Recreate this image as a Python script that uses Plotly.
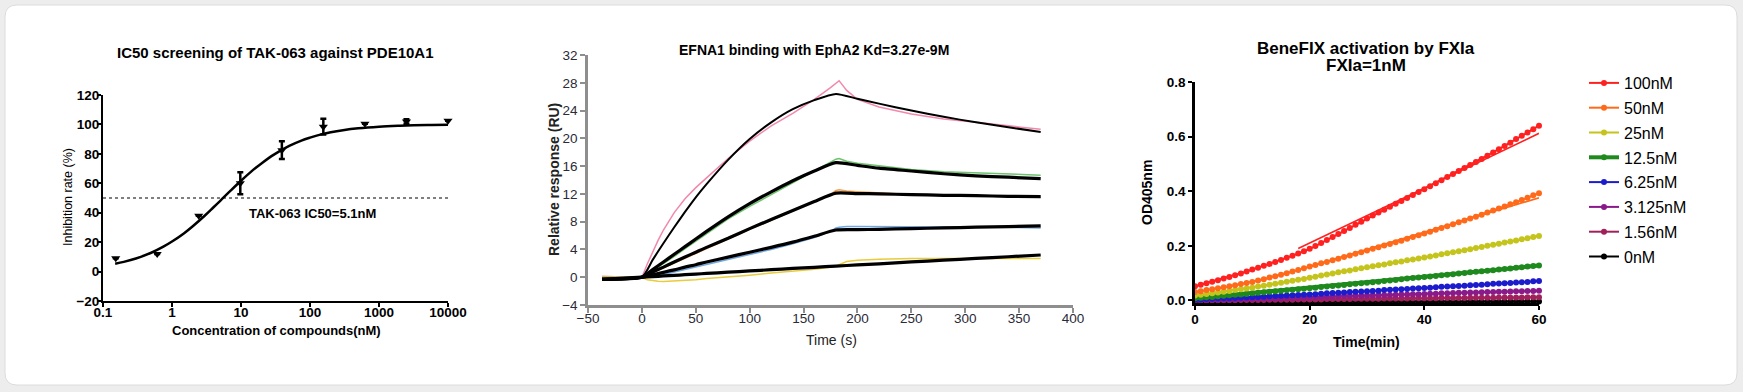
import plotly.graph_objects as go

# ---------------- Panel 1 : IC50 ----------------
conc_nM = [0.153, 0.61, 2.44, 9.77, 39.1, 156, 625, 2500, 10000]
inhib_mean = [9, 12, 38, 60, 82.5, 98.5, 100.5, 102, 102.5]
inhib_err = [0, 0, 0, 7.5, 6, 5.3, 0, 1.5, 0]
fit_conc = [0.15, 0.2, 0.3, 0.5, 0.75, 1, 1.5, 2, 3, 4, 5, 7, 10, 15, 20, 30, 50,
            75, 100, 150, 200, 300, 500, 1000, 2000, 5000, 10000]
fit_inhib = [5.3, 6.6, 8.9, 12.8, 16.9, 20.4, 26.1, 30.8, 38.1, 43.7, 48.1, 54.8,
             61.7, 69.1, 73.7, 79.5, 85.4, 89.0, 91.0, 93.4, 94.7, 96.1, 97.4,
             98.5, 99.1, 99.6, 99.75]
half_level = 50
conc_ticks = [0.1, 1, 10, 100, 1000, 10000]
conc_ticktext = ["0.1", "1", "10", "100", "1000", "10000"]

# ---------------- Panel 2 : SPR ----------------
spr_t_raw = [-37, -20, 0, 5, 10, 15, 20, 30, 40, 50, 60, 80, 100, 120, 140, 160, 175,
             180, 183, 186, 190, 200, 220, 250, 280, 310, 340, 370]
spr_pink = [0.1, 0.05, 0, 1.9, 3.7, 5.3, 6.8, 9.3, 11.3, 12.9, 14.3, 17.1, 19.6, 21.8,
            23.6, 25.6, 27.3, 28.0, 28.3, 27.7, 26.9, 25.6, 24.5, 23.5, 22.8,
            22.3, 21.8, 21.3]
spr_green = [0.0, 0.0, 0, 0.4, 0.9, 1.4, 1.9, 3.0, 4.1, 5.2, 6.3, 8.4, 10.2, 11.9, 13.6,
             15.4, 16.6, 17.0, 17.1, 16.9, 16.7, 16.4, 16.0, 15.5, 15.2, 15.0,
             14.8, 14.7]
spr_orange = [0.1, 0.05, 0, 0.3, 0.65, 1.0, 1.35, 2.1, 2.8, 3.5, 4.2, 5.5, 6.9, 8.2, 9.5,
              10.9, 11.9, 12.5, 12.6, 12.5, 12.4, 12.3, 12.1, 11.9, 11.8, 11.7,
              11.6, 11.5]
spr_blue = [0.0, 0.0, 0, 0.05, 0.15, 0.27, 0.4, 0.75, 1.1, 1.45, 1.8, 2.5, 3.3, 4.0, 4.8,
            5.7, 6.6, 7.1, 7.2, 7.25, 7.3, 7.3, 7.3, 7.3, 7.3, 7.25, 7.2, 7.1]
spr_yellow = [0.0, 0.0, 0, -0.35, -0.5, -0.57, -0.6, -0.55, -0.45, -0.35, -0.2, 0.0, 0.3,
              0.6, 0.85, 1.15, 1.45, 1.6, 1.8, 2.0, 2.25, 2.45, 2.6, 2.7, 2.7, 2.7,
              2.7, 2.7]
spr_t_fit = [-37, 0, 10, 20, 30, 40, 50, 60, 80, 100, 120, 140, 160, 180, 200, 220,
             250, 280, 310, 340, 370]
spr_fit1 = [-0.3, 0, 2.5, 4.9, 7.2, 9.4, 11.5, 13.4, 16.9, 19.9, 22.3, 24.2, 25.5,
            26.4, 25.7, 25.0, 24.0, 23.1, 22.3, 21.6, 20.9]
spr_fit2 = [-0.3, 0, 1.1, 2.2, 3.3, 4.4, 5.5, 6.6, 8.7, 10.6, 12.3, 13.9, 15.3,
            16.5, 16.1, 15.7, 15.3, 14.9, 14.6, 14.4, 14.2]
spr_fit3 = [-0.3, 0, 0.75, 1.45, 2.2, 2.9, 3.6, 4.3, 5.6, 7.0, 8.3, 9.6, 10.9, 12.1,
            12.05, 12.0, 11.9, 11.8, 11.75, 11.65, 11.6]
spr_fit4 = [-0.3, 0, 0.35, 0.7, 1.05, 1.45, 1.8, 2.2, 2.9, 3.6, 4.3, 5.05, 5.9, 6.8,
            6.85, 6.9, 7.0, 7.1, 7.2, 7.3, 7.4]
spr_fit5 = [-0.3, 0, 0.09, 0.18, 0.27, 0.36, 0.45, 0.54, 0.72, 0.9, 1.08, 1.26,
            1.43, 1.6, 1.77, 1.93, 2.2, 2.45, 2.7, 2.95, 3.2]

# ---------------- Panel 3 : BeneFIX kinetics ----------------
time_min = list(range(0, 61))
od_100 = [0.052, 0.058, 0.063, 0.069, 0.074, 0.080, 0.086, 0.092, 0.099, 0.106,
          0.113, 0.120, 0.127, 0.134, 0.141, 0.148, 0.156, 0.164, 0.172, 0.180,
          0.189, 0.199, 0.210, 0.221, 0.232, 0.243, 0.254, 0.265, 0.277, 0.288,
          0.300, 0.311, 0.322, 0.332, 0.343, 0.354, 0.364, 0.375, 0.386, 0.397,
          0.407, 0.418, 0.429, 0.440, 0.452, 0.463, 0.474, 0.485, 0.496, 0.507,
          0.518, 0.530, 0.542, 0.554, 0.566, 0.578, 0.591, 0.603, 0.615, 0.627, 0.640]
od_50 = [0.031, 0.034, 0.038, 0.041, 0.045, 0.048, 0.052, 0.056, 0.060, 0.064,
         0.068, 0.073, 0.078, 0.084, 0.089, 0.094, 0.100, 0.106, 0.112, 0.118,
         0.124, 0.130, 0.136, 0.141, 0.147, 0.153, 0.159, 0.165, 0.171, 0.177,
         0.183, 0.189, 0.195, 0.201, 0.207, 0.213, 0.219, 0.226, 0.232, 0.239,
         0.245, 0.252, 0.259, 0.265, 0.272, 0.279, 0.286, 0.293, 0.300, 0.307,
         0.314, 0.322, 0.329, 0.337, 0.344, 0.352, 0.360, 0.368, 0.376, 0.385, 0.393]
od_25 = [0.018, 0.021, 0.024, 0.026, 0.029, 0.032, 0.035, 0.038, 0.041, 0.044,
         0.047, 0.051, 0.054, 0.058, 0.061, 0.065, 0.069, 0.072, 0.076, 0.079,
         0.083, 0.087, 0.091, 0.095, 0.099, 0.103, 0.107, 0.110, 0.114, 0.118,
         0.122, 0.125, 0.129, 0.132, 0.136, 0.140, 0.143, 0.147, 0.150, 0.154,
         0.157, 0.161, 0.165, 0.169, 0.173, 0.177, 0.180, 0.184, 0.188, 0.192,
         0.196, 0.200, 0.204, 0.208, 0.212, 0.216, 0.220, 0.224, 0.228, 0.232, 0.236]
od_12_5 = [0.008, 0.010, 0.012, 0.013, 0.015, 0.017, 0.019, 0.021, 0.022, 0.024,
           0.026, 0.028, 0.030, 0.032, 0.034, 0.036, 0.037, 0.039, 0.041, 0.043,
           0.045, 0.047, 0.049, 0.051, 0.053, 0.055, 0.057, 0.059, 0.061, 0.063,
           0.065, 0.067, 0.069, 0.071, 0.073, 0.075, 0.078, 0.080, 0.082, 0.084,
           0.086, 0.088, 0.090, 0.092, 0.094, 0.096, 0.099, 0.101, 0.103, 0.105,
           0.107, 0.109, 0.111, 0.113, 0.115, 0.117, 0.120, 0.122, 0.124, 0.126, 0.128]
od_6_25 = [0.003, 0.004, 0.005, 0.006, 0.007, 0.008, 0.008, 0.009, 0.010, 0.011,
           0.012, 0.013, 0.014, 0.015, 0.016, 0.017, 0.018, 0.019, 0.020, 0.021,
           0.022, 0.023, 0.025, 0.026, 0.027, 0.028, 0.029, 0.031, 0.032, 0.033,
           0.034, 0.035, 0.036, 0.038, 0.039, 0.040, 0.041, 0.042, 0.044, 0.045,
           0.046, 0.047, 0.048, 0.050, 0.051, 0.052, 0.053, 0.054, 0.056, 0.057,
           0.058, 0.059, 0.061, 0.062, 0.063, 0.064, 0.066, 0.067, 0.068, 0.070, 0.071]
od_3_125 = [0.000, 0.001, 0.001, 0.002, 0.002, 0.003, 0.004, 0.004, 0.005, 0.005,
            0.006, 0.007, 0.007, 0.008, 0.008, 0.009, 0.010, 0.010, 0.011, 0.011,
            0.012, 0.013, 0.013, 0.014, 0.014, 0.015, 0.016, 0.016, 0.017, 0.017,
            0.018, 0.019, 0.019, 0.020, 0.020, 0.021, 0.022, 0.022, 0.023, 0.023,
            0.024, 0.025, 0.025, 0.026, 0.026, 0.027, 0.028, 0.028, 0.029, 0.029,
            0.030, 0.031, 0.031, 0.032, 0.032, 0.033, 0.034, 0.034, 0.035, 0.035, 0.036]
od_1_56 = [0.000, 0.000, 0.000, 0.001, 0.001, 0.001, 0.001, 0.001, 0.002, 0.002,
           0.002, 0.002, 0.002, 0.003, 0.003, 0.003, 0.003, 0.003, 0.004, 0.004,
           0.004, 0.004, 0.004, 0.005, 0.005, 0.005, 0.005, 0.005, 0.006, 0.006,
           0.006, 0.006, 0.006, 0.007, 0.007, 0.007, 0.007, 0.007, 0.008, 0.008,
           0.008, 0.008, 0.008, 0.009, 0.009, 0.009, 0.009, 0.009, 0.010, 0.010,
           0.010, 0.010, 0.010, 0.011, 0.011, 0.011, 0.011, 0.011, 0.012, 0.012, 0.012]
od_0 = [-0.005, -0.005, -0.005, -0.005, -0.005, -0.005, -0.004, -0.005, -0.005, -0.005,
        -0.005, -0.004, -0.005, -0.005, -0.005, -0.005, -0.004, -0.005, -0.005, -0.005,
        -0.004, -0.005, -0.005, -0.005, -0.004, -0.005, -0.005, -0.004, -0.005, -0.005,
        -0.004, -0.005, -0.005, -0.004, -0.005, -0.005, -0.004, -0.005, -0.004, -0.005,
        -0.004, -0.005, -0.004, -0.005, -0.004, -0.004, -0.005, -0.004, -0.004, -0.005,
        -0.004, -0.004, -0.004, -0.005, -0.004, -0.004, -0.004, -0.004, -0.004, -0.004, -0.004]
fit_t_100, fit_od_100 = [18, 60], [0.19, 0.612]
fit_t_50, fit_od_50 = [20, 60], [0.124, 0.376]
od_labels = ["100nM", "50nM", "25nM", "12.5nM", "6.25nM", "3.125nM", "1.56nM", "0nM"]
od_colors = ["#ff2020", "#ff6a1a", "#c4c41c", "#1e8a1e", "#1c1ccc", "#8a1a8a", "#a0205c", "#000000"]
od_series = [od_100, od_50, od_25, od_12_5, od_6_25, od_3_125, od_1_56, od_0]

W, H = 1743, 392
SANS = "Liberation Sans, Arial, sans-serif"

def px(p):
    return p / W

def py(p):
    return 1 - p / H

fig = go.Figure()

# ---- panel 1 traces
fig.add_trace(go.Scatter(x=[conc_ticks[0], conc_ticks[-1]], y=[half_level, half_level],
                         mode="lines", line=dict(color="black", width=1.1, dash="dot"),
                         xaxis="x", yaxis="y", showlegend=False, hoverinfo="skip"))
fig.add_trace(go.Scatter(x=fit_conc, y=fit_inhib, mode="lines", line_shape="spline",
                         line=dict(color="black", width=2.5),
                         xaxis="x", yaxis="y", showlegend=False))
fig.add_trace(go.Scatter(x=conc_nM, y=inhib_mean, mode="markers",
                         marker=dict(symbol="triangle-down", size=8, color="black"),
                         error_y=dict(type="data", array=inhib_err, color="black",
                                      thickness=2.5, width=3),
                         xaxis="x", yaxis="y", showlegend=False, cliponaxis=False))

# ---- panel 2 traces
for ys, col in [(spr_pink, "#f288ac"), (spr_green, "#6cc46c"), (spr_orange, "#f5a04c"),
                (spr_blue, "#72a8e2"), (spr_yellow, "#e8cc3c")]:
    fig.add_trace(go.Scatter(x=spr_t_raw, y=ys, mode="lines",
                             line=dict(color=col, width=1.5),
                             xaxis="x2", yaxis="y2", showlegend=False))
for ys, wdt in [(spr_fit1, 2.0), (spr_fit2, 3.2), (spr_fit3, 3.2), (spr_fit4, 3.2), (spr_fit5, 3.2)]:
    fig.add_trace(go.Scatter(x=spr_t_fit, y=ys, mode="lines", line_shape="spline",
                             line=dict(color="black", width=wdt, smoothing=0.6),
                             xaxis="x2", yaxis="y2", showlegend=False))

# ---- panel 3 : fitted lines drawn first (beneath the points)
for (tx, ty, col) in [(fit_t_50, fit_od_50, od_colors[1]), (fit_t_100, fit_od_100, od_colors[0])]:
    fig.add_trace(go.Scatter(x=tx, y=ty, mode="lines", line=dict(color="white", width=4),
                             xaxis="x3", yaxis="y3", showlegend=False, hoverinfo="skip"))
    fig.add_trace(go.Scatter(x=tx, y=ty, mode="lines", line=dict(color=col, width=1.6),
                             xaxis="x3", yaxis="y3", showlegend=False, hoverinfo="skip"))
# data (lowest first so red is on top)
for i in reversed(range(len(od_series))):
    fig.add_trace(go.Scatter(x=time_min, y=od_series[i], mode="lines+markers",
                             name=od_labels[i],
                             line=dict(color=od_colors[i], width=4 if i == 3 else 2),
                             marker=dict(color=od_colors[i], size=6),
                             xaxis="x3", yaxis="y3", cliponaxis=False,
                             legendgroup=od_labels[i], legendrank=i + 1))

bold13 = dict(family=SANS, size=13, color="black", weight="bold")
bold135 = dict(family=SANS, size=13.5, color="black", weight="bold")
ax_common = dict(showgrid=False, zeroline=False, showline=True, ticks="outside", mirror=False)

# card background
x0, x1, yt, yb = px(5), px(1737), py(5), py(385)
rx, ry = 12 / W, 12 / H
card = (f"M {x0+rx},{yt} L {x1-rx},{yt} Q {x1},{yt} {x1},{yt-ry} L {x1},{yb+ry} "
        f"Q {x1},{yb} {x1-rx},{yb} L {x0+rx},{yb} Q {x0},{yb} {x0},{yb+ry} "
        f"L {x0},{yt-ry} Q {x0},{yt} {x0+rx},{yt} Z")

ann = []
def add_ann(text, x, y, font, angle=0):
    ann.append(dict(text=text, x=x, y=y, xref="paper", yref="paper", showarrow=False,
                    xanchor="center", yanchor="middle", font=font, textangle=angle))

add_ann("IC50 screening of TAK-063 against PDE10A1", px(275), py(52),
        dict(family=SANS, size=15, color="black", weight="bold"))
add_ann("Concentration of compounds(nM)", px(276), py(330), bold13)
add_ann("Inhibition rate (%)", px(68), py(197), dict(family=SANS, size=12.5, color="black"), -90)
ann.append(dict(text="TAK-063 IC50=5.1nM", x=2.04, y=39.5, xref="x", yref="y", showarrow=False,
                xanchor="center", yanchor="middle", font=bold13))

add_ann("EFNA1 binding with EphA2 Kd=3.27e-9M", px(814), py(50),
        dict(family=SANS, size=14, color="black", weight="bold"))
add_ann("Relative response (RU)", px(554), py(180),
        dict(family=SANS, size=14, color="#222222", weight="bold"), -90)
add_ann("Time (s)", px(831), py(340), dict(family=SANS, size=14, color="#222222"))

add_ann("BeneFIX activation by FXIa", px(1366), py(48), dict(family=SANS, size=17, color="black", weight="bold"))
add_ann("FXIa=1nM", px(1366), py(65), dict(family=SANS, size=17, color="black", weight="bold"))
add_ann("Time(min)", px(1366), py(342), dict(family=SANS, size=14, color="black", weight="bold"))
add_ann("OD405nm", px(1147), py(193), dict(family=SANS, size=14, color="black", weight="bold"), -90)

grey = "#8e8e8e"
spr_tick = dict(family=SANS, size=13.5, color="#2a2a38")
fig.update_layout(
    width=W, height=H, margin=dict(l=0, r=0, t=0, b=0, pad=0, autoexpand=False),
    paper_bgcolor="#ededed", plot_bgcolor="rgba(0,0,0,0)",
    shapes=[dict(type="path", path=card, xref="paper", yref="paper", layer="below",
                 fillcolor="white", line=dict(color="#dcdcdc", width=1))],
    annotations=ann,
    xaxis=dict(**ax_common, domain=[px(103), px(448)], type="log", range=[-1, 4], anchor="y",
               tickvals=conc_ticks, ticktext=conc_ticktext, linecolor="black", linewidth=2,
               tickcolor="black", tickwidth=2, ticklen=4, tickfont=bold135,
               ticklabelstandoff=-6),
    yaxis=dict(**ax_common, domain=[py(301), py(95)], range=[-20, 120], anchor="x",
               tickvals=[-20, 0, 20, 40, 60, 80, 100, 120], linecolor="black", linewidth=2,
               tickcolor="black", tickwidth=2, ticklen=4, tickfont=bold135,
               ticklabelstandoff=-5),
    xaxis2=dict(**ax_common, domain=[px(588), px(1073)], range=[-50, 400], anchor="y2",
                tickvals=[-50, 0, 50, 100, 150, 200, 250, 300, 350, 400],
                linecolor=grey, linewidth=2.5, tickcolor=grey, tickwidth=2, ticklen=5,
                tickfont=spr_tick, ticklabelstandoff=-6),
    yaxis2=dict(**ax_common, domain=[py(305), py(55)], range=[-4, 32], anchor="x2",
                tickvals=[-4, 0, 4, 8, 12, 16, 20, 24, 28, 32],
                linecolor=grey, linewidth=2.5, tickcolor=grey, tickwidth=2, ticklen=5,
                tickfont=spr_tick),
    xaxis3=dict(**ax_common, domain=[px(1195), px(1539)], range=[0, 60], anchor="y3",
                tickvals=[0, 20, 40, 60], linecolor="black", linewidth=2.5,
                tickcolor="black", tickwidth=2, ticklen=4, tickfont=bold135,
                ticklabelstandoff=-2),
    yaxis3=dict(**ax_common, domain=[py(303.2), py(82)], range=[-0.01, 0.8], anchor="x3",
                tickvals=[0, 0.2, 0.4, 0.6, 0.8], ticktext=["0.0", "0.2", "0.4", "0.6", "0.8"],
                linecolor="black", linewidth=2.5, tickcolor="black", tickwidth=2, ticklen=4,
                tickfont=bold135),
    legend=dict(x=px(1584), y=py(66), xanchor="left", yanchor="top",
                font=dict(family=SANS, size=16, color="black"), bgcolor="rgba(0,0,0,0)",
                tracegroupgap=1, traceorder="grouped"),
)

fig.write_html("out.html", config={"displayModeBar": False},
               post_script="document.body.style.margin='0';document.body.style.overflow='hidden';")
